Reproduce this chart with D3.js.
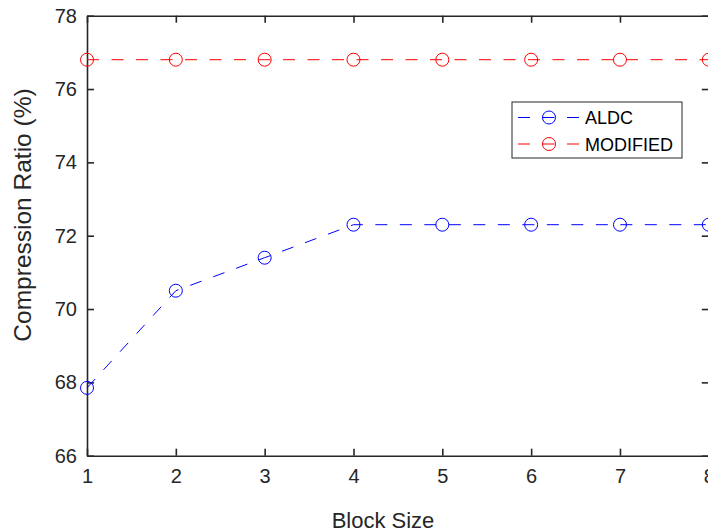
<!DOCTYPE html>
<html>
<head>
<meta charset="utf-8">
<script src="https://cdn.jsdelivr.net/npm/d3@7"></script>
<style>
  body { margin: 0; background: #fff; }
  text { font-family: "Liberation Sans", Arial, sans-serif; fill: #262626; }
</style>
</head>
<body>
<script>
var blockSize = [1, 2, 3, 4, 5, 6, 7, 8];
var aldc = [67.85, 70.5, 71.4, 72.3, 72.3, 72.3, 72.3, 72.3];
var modified = [76.8, 76.8, 76.8, 76.8, 76.8, 76.8, 76.8, 76.8];
var yTicks = [66, 68, 70, 72, 74, 76, 78];
var seriesNames = ["ALDC", "MODIFIED"];
var seriesColors = ["#0000ff", "#ff0000"];

var svg = d3.select("body")
    .append("svg")
    .attr("width", 708)
    .attr("height", 530);

var x = d3.scaleLinear().domain([1, 8]).range([87, 708.8]);
var y = d3.scaleLinear().domain([66, 78]).range([455.7, 15.7]);

var axisColor = "#262626";

// axes (box on, ticks inward)
svg.append("g")
    .attr("transform", "translate(0,455.7)")
    .call(d3.axisBottom(x).tickValues(blockSize).tickFormat(d3.format("d")).tickSizeInner(-7).tickSizeOuter(0).tickPadding(13))
    .call(styleAxis);

svg.append("g")
    .attr("transform", "translate(0,15.7)")
    .call(d3.axisTop(x).tickValues(blockSize).tickFormat("").tickSizeInner(-7).tickSizeOuter(0))
    .call(styleAxis);

svg.append("g")
    .attr("transform", "translate(87,0)")
    .call(d3.axisLeft(y).tickValues(yTicks).tickFormat(d3.format("d")).tickSizeInner(-7).tickSizeOuter(0).tickPadding(10))
    .call(styleAxis);

svg.append("g")
    .attr("transform", "translate(" + x(8) + ",0)")
    .call(d3.axisRight(y).tickValues(yTicks).tickFormat("").tickSizeInner(-7).tickSizeOuter(0))
    .call(styleAxis);

function styleAxis(g) {
    g.select(".domain").attr("stroke", axisColor).attr("stroke-width", 1.6);
    g.selectAll(".tick line").attr("stroke", axisColor).attr("stroke-width", 1.6);
    g.selectAll(".tick text")
        .attr("font-size", "20px")
        .attr("fill", axisColor)
        .style("font-family", "'Liberation Sans', Arial, sans-serif");
}

// series
var series = [aldc, modified];
var line = d3.line()
    .x(function(d, i) { return x(blockSize[i]); })
    .y(function(d) { return y(d); });

series.forEach(function(values, s) {
    svg.append("path")
        .attr("d", line(values))
        .attr("fill", "none")
        .attr("stroke", seriesColors[s])
        .attr("stroke-width", 1)
        .attr("stroke-dasharray", "12,12.5");

    svg.selectAll(".pt" + s)
        .data(values)
        .enter()
        .append("circle")
        .attr("cx", function(d, i) { return x(blockSize[i]); })
        .attr("cy", function(d) { return y(d); })
        .attr("r", 6.5)
        .attr("fill", "none")
        .attr("stroke", seriesColors[s])
        .attr("stroke-width", 1);
});

// axis labels
svg.append("text")
    .attr("x", 383)
    .attr("y", 528)
    .attr("text-anchor", "middle")
    .attr("font-size", "22px")
    .text("Block Size");

svg.append("text")
    .attr("transform", "translate(31,215) rotate(-90)")
    .attr("text-anchor", "middle")
    .attr("font-size", "24.5px")
    .text("Compression Ratio (%)");

// legend
var legend = svg.append("g");
legend.append("rect")
    .attr("x", 512)
    .attr("y", 102)
    .attr("width", 170)
    .attr("height", 56)
    .attr("fill", "#fff")
    .attr("stroke", axisColor)
    .attr("stroke-width", 1);

seriesNames.forEach(function(name, i) {
    var ly = 117.5 + i * 26.5;
    legend.append("line")
        .attr("x1", 518).attr("x2", 580)
        .attr("y1", ly).attr("y2", ly)
        .attr("stroke", seriesColors[i])
        .attr("stroke-width", 1)
        .attr("stroke-dasharray", "12,12.5");
    legend.append("circle")
        .attr("cx", 549).attr("cy", ly)
        .attr("r", 6.5)
        .attr("fill", "none")
        .attr("stroke", seriesColors[i])
        .attr("stroke-width", 1);
    legend.append("text")
        .attr("x", 585)
        .attr("y", ly + 6.5)
        .attr("font-size", "18px")
        .style("fill", "#000")
        .text(name);
});
</script>
</body>
</html>
